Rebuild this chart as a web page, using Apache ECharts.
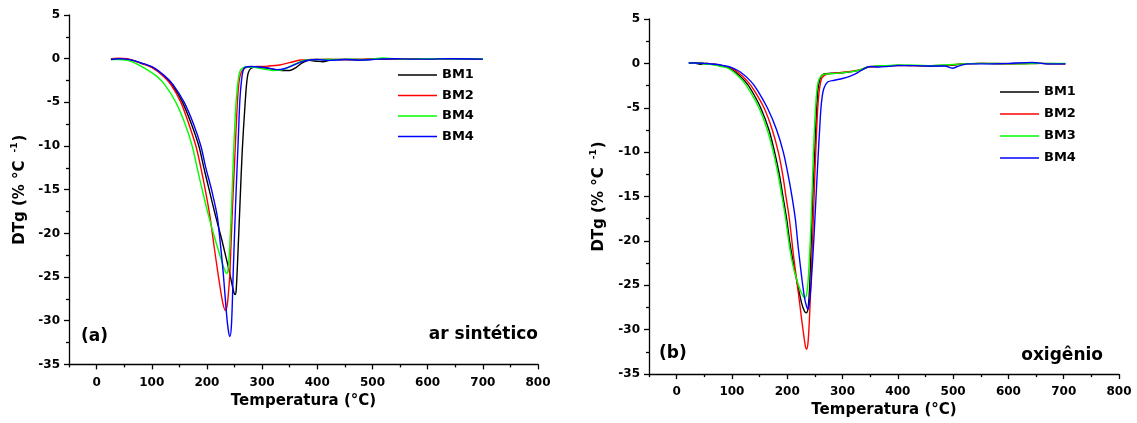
<!DOCTYPE html>
<html>
<head>
<meta charset="utf-8">
<script src="https://cdn.jsdelivr.net/npm/echarts@6/dist/echarts.min.js"></script>
<style>html,body{margin:0;padding:0;background:#fff;}#c{width:1137px;height:423px;}</style>
</head>
<body>
<div id="c"></div>
<script>
// ---- tick values ----
const xMajorTicks = [0, 100, 200, 300, 400, 500, 600, 700, 800];
const xMinorTicks = [-50, 50, 150, 250, 350, 450, 550, 650, 750];

// ---- legend labels ----
const legendA = ['BM1', 'BM2', 'BM4', 'BM4'];
const legendB = ['BM1', 'BM2', 'BM3', 'BM4'];
const seriesColors = ['#000000', '#ff0000', '#00ff00', '#0000ff'];

// ---- panel (a): ar sintético  [T (°C), DTg (% °C-1)] ----
const aBM1 = [[26,-0.05],[40,0.0],[55,-0.05],[66,-0.2],[80,-0.5],[101,-1.0],[122,-2.0],[137,-3.0],[155.8,-5.0],[172,-7.5],[185.4,-10.0],[194.5,-12.5],[204,-15.0],[215.6,-18.0],[226,-20.5],[234,-22.6],[241,-24.5],[246,-26.0],[249,-26.8],[251,-27.0],[253,-26.5],[256,-22.5],[259.7,-16.9],[264,-10.5],[268.8,-5.5],[272,-2.8],[275,-1.6],[280,-1.1],[290,-0.95],[305,-1.05],[320,-1.2],[335,-1.35],[350,-1.35],[362,-1.0],[372,-0.5],[385,-0.2],[400,-0.3],[410,-0.35],[425,-0.15],[450,-0.1],[480,-0.15],[510,-0.05],[540,-0.05],[570,0.0],[600,-0.05],[630,0.0],[660,-0.05],[700,-0.05]];
const aBM2 = [[26,0.0],[40,0.05],[55,0.0],[66,-0.2],[80,-0.5],[100,-1.0],[121,-2.0],[135,-3.0],[152.8,-5.0],[167.3,-7.5],[180,-10.0],[189,-12.5],[196.9,-15.0],[205.3,-18.0],[213,-21.5],[221,-25.0],[228.5,-27.9],[233.5,-28.8],[236.5,-28.3],[239,-26.8],[241.6,-24.5],[246,-17.5],[250.6,-11.2],[254,-6.5],[256.7,-3.6],[260,-2.0],[265.8,-1.2],[275,-0.95],[290,-0.9],[310,-0.85],[332,-0.72],[350,-0.45],[370,-0.15],[390,-0.1],[420,-0.05],[450,-0.1],[480,-0.05],[520,0.0],[560,0.0],[600,-0.05],[640,0.0],[700,-0.05]];
const aBM4g = [[26,-0.1],[40,-0.1],[55,-0.2],[66,-0.4],[84.5,-1.0],[108.7,-2.0],[123.8,-3.0],[143.7,-5.0],[160.6,-7.5],[173.3,-10.0],[182.3,-12.5],[191.4,-15.0],[203,-18.0],[214,-20.5],[224,-22.6],[231,-24.0],[235.6,-24.6],[238,-24.3],[240.5,-22.5],[242.6,-19.8],[244.6,-16.9],[247.5,-12.0],[250.6,-7.4],[253.5,-4.4],[256.7,-2.4],[259.5,-1.5],[263,-1.15],[270,-0.95],[285,-1.0],[300,-1.15],[320,-1.35],[335,-1.3],[350,-0.9],[365,-0.45],[380,-0.15],[400,-0.1],[430,-0.1],[460,-0.05],[490,-0.1],[519,0.08],[540,0.0],[570,-0.05],[600,0.0],[650,-0.05],[700,0.0]];
const aBM4b = [[26,-0.1],[40,0.0],[55,-0.05],[66,-0.2],[81.5,-0.5],[102.6,-1.0],[123.8,-2.0],[138.9,-3.0],[158.8,-5.0],[175.8,-7.5],[189,-10.0],[198,-12.5],[208.3,-15.0],[218.6,-18.0],[224,-21.0],[229.5,-24.5],[235.6,-29.3],[239,-31.2],[241.6,-31.8],[244.6,-30.3],[247.6,-24.5],[251.8,-16.9],[256.7,-9.3],[259.7,-4.7],[262.8,-2.4],[265.5,-1.4],[268.8,-1.0],[280,-0.9],[295,-0.95],[310,-1.05],[327,-1.25],[340,-1.15],[355,-0.8],[370,-0.4],[385,-0.15],[400,-0.1],[420,-0.2],[450,-0.1],[480,-0.15],[510,-0.05],[540,0.0],[570,-0.05],[600,-0.05],[640,0.0],[700,-0.05]];

// ---- panel (b): oxigênio ----
const bBM1 = [[22,0.05],[35,0.0],[43,-0.1],[55,0.0],[70,-0.15],[82,-0.3],[94.7,-0.5],[106.7,-1.0],[123.6,-2.0],[135,-3.0],[151.9,-5.0],[167,-7.5],[177.2,-10.0],[185.7,-12.5],[192.3,-15.0],[198.9,-17.5],[205,-20.3],[212,-22.8],[220,-25.3],[226,-27.0],[231,-27.9],[234.5,-28.1],[238,-27.4],[241,-24.5],[244,-19.0],[247,-13.5],[249.6,-10.3],[252.5,-6.0],[255.6,-2.9],[259,-1.8],[263,-1.3],[270,-1.15],[285,-1.1],[300,-1.05],[320,-0.9],[335,-0.7],[345,-0.45],[360,-0.35],[380,-0.3],[400,-0.2],[430,-0.25],[460,-0.3],[490,-0.25],[520,-0.05],[550,0.0],[580,-0.05],[620,0.0],[645,0.05],[670,-0.05],[703,-0.05]];
const bBM2 = [[22,0.05],[35,0.05],[50,0.0],[70,-0.1],[85,-0.3],[97.7,-0.5],[110.9,-1.0],[127.8,-2.0],[139.9,-3.0],[158,-5.0],[173,-7.5],[183.9,-10.0],[191.7,-12.5],[197.7,-15.0],[203.8,-17.5],[212,-22.0],[220,-25.8],[226,-28.8],[230,-30.7],[233,-31.9],[235,-32.2],[237.5,-31.5],[240,-29.0],[243,-24.5],[247.2,-17.5],[250,-12.5],[253.2,-7.5],[256,-4.3],[259.2,-2.5],[263,-1.6],[270,-1.25],[285,-1.1],[300,-1.0],[320,-0.85],[335,-0.65],[345,-0.4],[360,-0.35],[380,-0.3],[400,-0.25],[430,-0.25],[460,-0.25],[490,-0.2],[520,-0.05],[550,0.0],[580,0.0],[620,-0.05],[660,0.0],[703,-0.05]];
const bBM3 = [[22,0.05],[35,0.0],[45,0.1],[50,-0.1],[60,-0.1],[70,-0.2],[80,-0.35],[91.6,-0.5],[103.7,-1.0],[120,-2.0],[131.4,-3.0],[148.9,-5.0],[164,-7.5],[174.8,-10.0],[183.3,-12.5],[190.5,-15.0],[197.1,-17.5],[205,-21.0],[212,-23.2],[220,-24.9],[226,-25.9],[232,-26.4],[235,-26.0],[238,-24.3],[241,-20.8],[243.6,-17.0],[246,-12.5],[248.3,-8.5],[251.4,-4.8],[254,-2.8],[257.4,-1.8],[263.5,-1.3],[270,-1.2],[285,-1.15],[300,-1.05],[320,-0.9],[335,-0.65],[345,-0.4],[360,-0.3],[380,-0.25],[400,-0.2],[430,-0.2],[460,-0.25],[490,-0.15],[520,-0.05],[550,0.0],[580,0.0],[620,-0.05],[660,0.0],[703,0.0]];
const bBM4 = [[22,0.05],[35,0.05],[50,0.0],[70,-0.1],[85,-0.25],[100.7,-0.5],[115.8,-1.0],[133.8,-2.0],[145.9,-3.0],[164,-5.0],[180.9,-7.5],[192.9,-10.0],[201.4,-12.5],[208.6,-15.0],[214.6,-17.5],[220,-20.8],[226,-24.0],[231,-26.3],[235,-27.4],[237.5,-27.7],[240,-27.0],[243,-25.0],[248.3,-19.6],[254.4,-12.2],[260.4,-5.5],[263.5,-3.6],[266.4,-2.8],[273,-2.1],[285,-1.9],[300,-1.7],[315,-1.4],[326.8,-1.07],[340,-0.55],[350,-0.35],[365,-0.4],[380,-0.35],[400,-0.25],[430,-0.25],[460,-0.3],[485,-0.3],[498.6,-0.55],[510,-0.3],[526,-0.05],[560,-0.05],[600,0.0],[643,0.1],[670,-0.05],[703,-0.05]];

const FONT = 'DejaVu Sans';
const chart = echarts.init(document.getElementById('c'), null, {renderer: 'canvas'});

function xAxes(gi, nameGap) {
  return [
    {
      gridIndex: gi, type: 'value', min: -50, max: 800, position: 'bottom',
      axisLine: {show: true, onZero: false, lineStyle: {color: '#000', width: 1.3}},
      axisTick: {show: true, customValues: xMajorTicks, length: 5, lineStyle: {color: '#000', width: 1.3}},
      axisLabel: {customValues: xMajorTicks, color: '#000', fontFamily: FONT, fontWeight: 'bold', fontSize: 12, margin: 12},
      splitLine: {show: false},
      name: 'Temperatura (°C)', nameLocation: 'middle', nameGap: nameGap,
      nameTextStyle: {color: '#000', fontFamily: FONT, fontWeight: 'bold', fontSize: 15}
    },
    {
      gridIndex: gi, type: 'value', min: -50, max: 800, position: 'bottom',
      axisLine: {show: false, onZero: false},
      axisTick: {show: true, customValues: xMinorTicks, length: 3, lineStyle: {color: '#000', width: 1.3}},
      axisLabel: {show: false}, splitLine: {show: false}
    }
  ];
}
function yAxis(gi, nameGap) {
  return {
    gridIndex: gi, type: 'value', min: -35, max: 5, interval: 5,
    axisLine: {show: true, onZero: false, lineStyle: {color: '#000', width: 1.3}},
    axisTick: {show: true, length: 5, lineStyle: {color: '#000', width: 1.3}},
    minorTick: {show: true, splitNumber: 2, length: 3, lineStyle: {color: '#000', width: 1.3}},
    axisLabel: {color: '#000', fontFamily: FONT, fontWeight: 'bold', fontSize: 12, margin: 9},
    splitLine: {show: false}, minorSplitLine: {show: false},
    name: '{t|DTg (% °C}{s|-1}{t|)}', nameLocation: 'middle', nameGap: nameGap,
    nameTextStyle: {
      rich: {
        t: {color: '#000', fontFamily: FONT, fontWeight: 'bold', fontSize: 15, lineHeight: 20},
        s: {color: '#000', fontFamily: FONT, fontWeight: 'bold', fontSize: 9, verticalAlign: 'top', padding: [0, 1, 0, 8]}
      }
    }
  };
}
function mkSeries(prefix, arrs, xi, yi) {
  return arrs.map((d, i) => ({
    name: prefix + i, type: 'line', xAxisIndex: xi, yAxisIndex: yi,
    data: d, showSymbol: false, smooth: 0.3,
    lineStyle: {color: seriesColors[i], width: 1.4},
    itemStyle: {color: seriesColors[i]}
  }));
}
function mkLegend(prefix, labels, left, top, gap) {
  return {
    left: left, top: top, orient: 'vertical', icon: 'rect',
    itemWidth: 39, itemHeight: 1.5, itemGap: gap, selectedMode: false,
    data: labels.map((l, i) => prefix + i),
    formatter: name => labels[+name.slice(prefix.length)],
    textStyle: {color: '#000', fontFamily: FONT, fontWeight: 'bold', fontSize: 13, lineHeight: 14, padding: [0, 0, 0, 0]}
  };
}

chart.setOption({
  animation: false,
  backgroundColor: '#fff',
  grid: [
    {left: 69, top: 15, width: 469, height: 349.4},
    {left: 649, top: 19, width: 470, height: 360}
  ],
  xAxis: [...xAxes(0, 26), ...xAxes(1, 28)],
  yAxis: [yAxis(0, 39), yAxis(1, 40)],
  legend: [
    mkLegend('a', legendA, 393, 63, 6.5),
    mkLegend('b', legendB, 995, 80, 8)
  ],
  series: [
    ...mkSeries('a', [aBM1, aBM2, aBM4g, aBM4b], 0, 0),
    ...mkSeries('b', [bBM1, bBM2, bBM3, bBM4], 2, 1)
  ],
  graphic: [
    {type: 'text', x: 81, y: 337, style: {text: '(a)', fill: '#000', font: 'bold 17px "DejaVu Sans"', verticalAlign: 'middle', align: 'left'}},
    {type: 'text', x: 538, y: 335, style: {text: 'ar sintético', fill: '#000', font: 'bold 17px "DejaVu Sans"', verticalAlign: 'middle', align: 'right'}},
    {type: 'text', x: 659, y: 354, style: {text: '(b)', fill: '#000', font: 'bold 17px "DejaVu Sans"', verticalAlign: 'middle', align: 'left'}},
    {type: 'text', x: 1103, y: 356, style: {text: 'oxigênio', fill: '#000', font: 'bold 17px "DejaVu Sans"', verticalAlign: 'middle', align: 'right'}}
  ]
});
</script>
</body>
</html>
